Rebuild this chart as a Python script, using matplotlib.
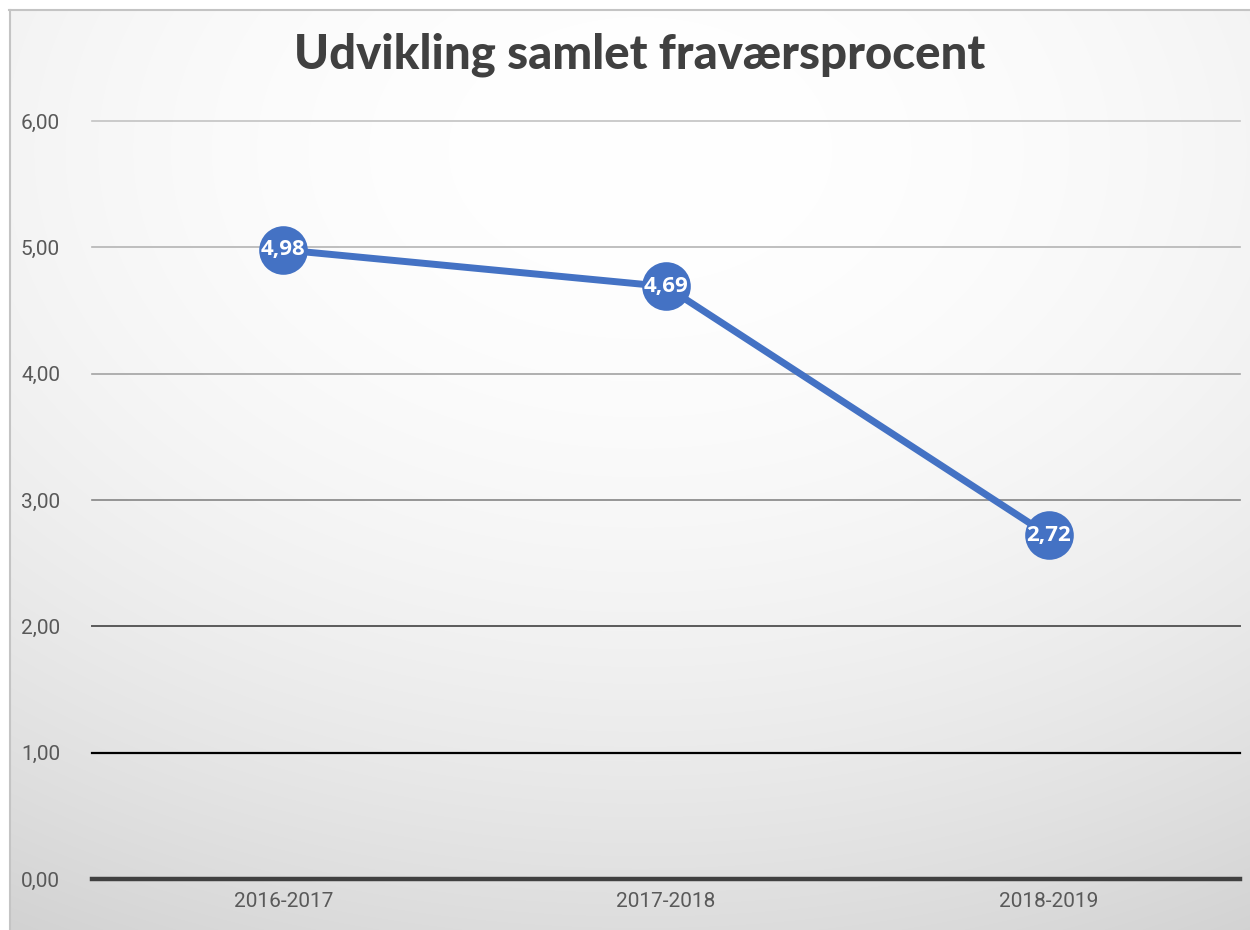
import numpy as np
import matplotlib
matplotlib.use("Agg")
import matplotlib.pyplot as plt

categories = ["2016-2017", "2017-2018", "2018-2019"]
values = [4.98, 4.69, 2.72]
value_labels = ["4,98", "4,69", "2,72"]
y_ticks = [0, 1, 2, 3, 4, 5, 6]
y_tick_labels = ["0,00", "1,00", "2,00", "3,00", "4,00", "5,00", "6,00"]
title = "Udvikling samlet fraværsprocent"

W, H = 1250, 930
fig = plt.figure(figsize=(W / 100, H / 100), dpi=100)
fig.patch.set_facecolor("white")

# background gradient panel (chart area starts at x=10, y=11)
bg = fig.add_axes([10 / W, 0, 1 - 10 / W, 1 - 11 / H])
bg.set_axis_off()
yy, xx = np.mgrid[0:920, 0:1240]
r2 = ((xx - 630) / 1150.0) ** 2 + ((yy - 140) / 800.0) ** 2
val = 255 - 36 * np.clip(r2, 0, 1.4)
val = np.clip(val, 200, 255) / 255.0
img = np.dstack([val, val, val])
bg.imshow(img, aspect="auto", extent=[0, 1, 0, 1], origin="upper")
bg.set_xlim(0, 1)
bg.set_ylim(0, 1)
# border lines
fig.add_artist(plt.Line2D([9.5 / W, 9.5 / W], [0, 1 - 10.5 / H], color="#c4c4c4", lw=1.5))
fig.add_artist(plt.Line2D([9 / W, 1], [1 - 10.5 / H, 1 - 10.5 / H], color="#c4c4c4", lw=1.5))

ax = fig.add_axes([92 / W, 1 - 879 / H, (1240 - 92) / W, (879 - 121) / H])
ax.patch.set_alpha(0)
for s in ax.spines.values():
    s.set_visible(False)

grid_colors = ["#404040", "#000000", "#5a5a5a", "#858585", "#a3a3a3", "#b4b4b4", "#c3c3c3"]
grid_widths = [3.2, 1.6, 1.4, 1.2, 1.2, 1.2, 1.2]
for yv, c, w in zip(y_ticks, grid_colors, grid_widths):
    ax.axhline(yv, color=c, lw=w, zorder=1, clip_on=False)

x = np.arange(len(categories))
ax.plot(x, values, color="#4472C4", lw=5, zorder=3, solid_capstyle="round")
ax.plot(x, values, "o", color="#4472C4", markersize=35, zorder=4, markeredgewidth=0)
for xi, v, lab in zip(x, values, value_labels):
    ax.text(xi, v, lab, ha="center", va="center", color="white", fontsize=16,
            fontweight="bold", family=["Open Sans", "DejaVu Sans"], zorder=5)

ax.set_xlim(-0.5, 2.5)
ax.set_ylim(0, 6)
ax.set_xticks(x)
ax.set_xticklabels(categories)
ax.set_yticks(y_ticks)
ax.set_yticklabels(y_tick_labels)
ax.tick_params(axis="both", length=0, labelsize=15, labelcolor="#595959")
ax.tick_params(axis="y", pad=23)
ax.tick_params(axis="x", pad=9)
for t in ax.get_xticklabels() + ax.get_yticklabels():
    t.set_family(["Roboto", "DejaVu Sans"])

fig.text(640 / W, 1 - 55 / H, title, ha="center", va="center", fontsize=34,
         fontweight="black", color="#404040", family=["Lato", "Roboto", "DejaVu Sans"])

fig.savefig("out.png", dpi=100)
